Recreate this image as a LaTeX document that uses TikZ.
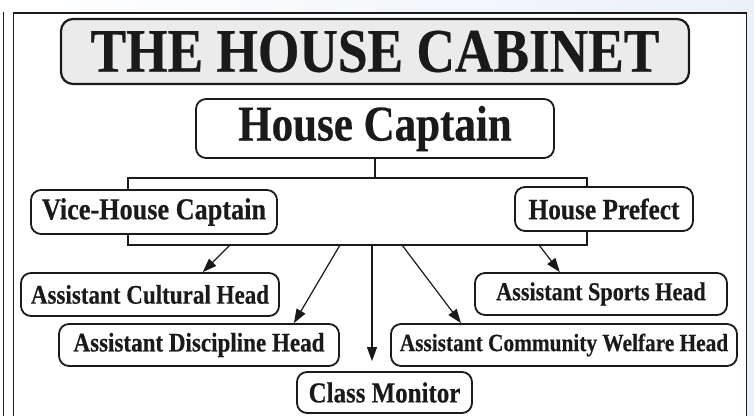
\documentclass[tikz,border=0pt]{standalone}
\usepackage{fontspec}
\setmainfont{Liberation Serif}[FakeStretch=0.86,BoldFeatures={FakeBold=0.4}]
\usetikzlibrary{arrows.meta}
\definecolor{paleblue}{RGB}{236,241,248}
\definecolor{ink}{RGB}{26,26,26}

\begin{document}
\begin{tikzpicture}[x=1pt,y=1pt,
        box/.style={draw=ink,line width=1.8pt,rounded corners=10pt,fill=white,inner sep=0pt,text=ink},
        post/.style={box,font=\bfseries\fontsize{#1}{#1}\selectfont},
        bus/.style={draw=ink,line width=2pt},
        arr/.style={draw=ink,line width=1.2pt,-{Triangle[length=14pt,width=10pt]}}]
        % Page and frame
        \useasboundingbox (0,0) rectangle (754,-415);
        \clip (0,0) rectangle (754,-415);
        \shade[left color=white,right color=paleblue] (0,0) rectangle (754,-415);
        \draw[ink,line width=1.3pt] (3.5,-12) -- (3.5,-420);
        \draw[ink,line width=1.8pt,fill=white] (13.5,-420) -- (13.5,-13) -- (746.5,-13) -- (746.5,-420);
        % Heading
        \node[post=62,fill=black!8,line width=2.2pt,rounded corners=12pt,minimum width=628pt,minimum height=65pt] (title) at (375,-51.5) {THE HOUSE CABINET};
        \node[post=50,minimum width=358pt,minimum height=59pt] (captain) at (375,-128.5) {House Captain};
        % Deputies
        \node[post=30.5,minimum width=246pt,minimum height=44pt] (vice) at (154,-212) {Vice-House Captain};
        \node[post=29.5,minimum width=178pt,minimum height=44pt] (prefect) at (604,-209) {House Prefect};
        % Assistants
        \node[post=26.8,minimum width=258pt,minimum height=43pt] (cultural) at (150,-294.5) {Assistant Cultural Head};
        \node[post=26.8,minimum width=280pt,minimum height=42pt] (discipline) at (199,-345) {Assistant Discipline Head};
        \node[post=29,minimum width=175pt,minimum height=41pt] (monitor) at (384.5,-392.5) {Class Monitor};
        \node[post=25.8,minimum width=252pt,minimum height=42pt] (sports) at (601,-294) {Assistant Sports Head};
        \node[post=24.8,minimum width=346pt,minimum height=42pt] (welfare) at (564,-345) {Assistant Community Welfare Head};
        % Upper bus
        \coordinate (topl) at (128,-178);
        \coordinate (topr) at (587,-178);
        \draw[bus] (captain.south) -- (captain.south |- topl);
        \draw[bus] (vice.north -| topl) -- (topl) -- (topr) -- (prefect.north -| topr);
        % Lower bus
        \coordinate (botl) at (128,-245);
        \coordinate (botr) at (587,-245);
        \draw[bus] (vice.south -| botl) -- (botl) -- (botr) -- (prefect.south -| botr);
        % Arrows to the posts
        \coordinate (s1) at (230,-245);
        \coordinate (s2) at (340,-245);
        \coordinate (s3) at (372,-245);
        \coordinate (s4) at (402,-245);
        \coordinate (s5) at (539,-245);
        \draw[arr] (s1) -- (cultural.23);
        \draw[arr] (s2) -- (discipline.13);
        \draw[arr,shorten >=10pt] (s3) -- (s3 |- monitor.north);
        \draw[arr] (s4) -- (welfare.168);
        \draw[arr] (s5) -- (sports.152);
    \end{tikzpicture}
\end{document}
